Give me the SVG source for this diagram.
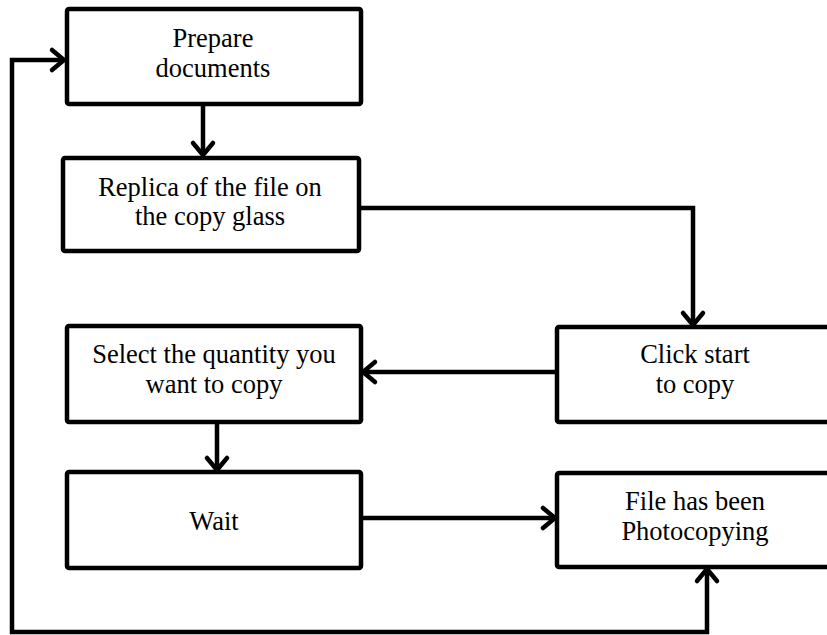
<svg xmlns="http://www.w3.org/2000/svg" width="827" height="635" viewBox="0 0 827 635">
  <style>
    .box { fill: #ffffff; stroke: #000000; stroke-width: 4.5; }
    .lbl { font-family: "Liberation Serif", "Times New Roman", serif; font-size: 26.5px; fill: #000000; text-anchor: middle; }
    .wire { fill: none; stroke: #000000; stroke-width: 4.5; stroke-linejoin: miter; }
  </style>
  <defs>
    <marker id="chev" markerUnits="userSpaceOnUse" markerWidth="30" markerHeight="30" refX="0" refY="0" orient="auto-start-reverse" overflow="visible">
      <path d="M -12 -10 L 0 0 L -12 10" fill="none" stroke="#000000" stroke-width="4.5" stroke-linecap="round" stroke-linejoin="round"/>
    </marker>
  </defs>
  <rect width="827" height="635" fill="#ffffff"/>

  <g id="connectors">
    <path class="wire" d="M 203 106 L 203 155" marker-end="url(#chev)"/>
    <path class="wire" d="M 361 208 L 693 208 L 693 325" marker-end="url(#chev)"/>
    <path class="wire" d="M 557 372 L 363 372" marker-end="url(#chev)"/>
    <path class="wire" d="M 217 422 L 217 470" marker-end="url(#chev)"/>
    <path class="wire" d="M 361 518 L 555 518" marker-end="url(#chev)"/>
    <path class="wire" d="M 707 569 L 707 632 L 12 632 L 12 60 L 64 60" marker-start="url(#chev)" marker-end="url(#chev)"/>
  </g>

  <g id="prepare">
    <rect class="box" x="67" y="9" width="294" height="95" rx="2"/>
    <text class="lbl" x="213" y="47">Prepare</text>
    <text class="lbl" x="213" y="77">documents</text>
  </g>

  <g id="replica">
    <rect class="box" x="63" y="158" width="296" height="93" rx="2"/>
    <text class="lbl" x="210" y="196">Replica of the file on</text>
    <text class="lbl" x="210" y="225">the copy glass</text>
  </g>

  <g id="click-start">
    <rect class="box" x="557" y="327" width="280" height="95" rx="2"/>
    <text class="lbl" x="695" y="363">Click start</text>
    <text class="lbl" x="695" y="393">to copy</text>
  </g>

  <g id="select-quantity">
    <rect class="box" x="67" y="326" width="294" height="96" rx="2"/>
    <text class="lbl" x="214" y="363">Select the quantity you</text>
    <text class="lbl" x="214" y="393">want to copy</text>
  </g>

  <g id="wait">
    <rect class="box" x="67" y="472" width="294" height="96" rx="2"/>
    <text class="lbl" x="214" y="530">Wait</text>
  </g>

  <g id="photocopied">
    <rect class="box" x="557" y="473" width="280" height="94" rx="2"/>
    <text class="lbl" x="695" y="510">File has been</text>
    <text class="lbl" x="695" y="540">Photocopying</text>
  </g>
</svg>
